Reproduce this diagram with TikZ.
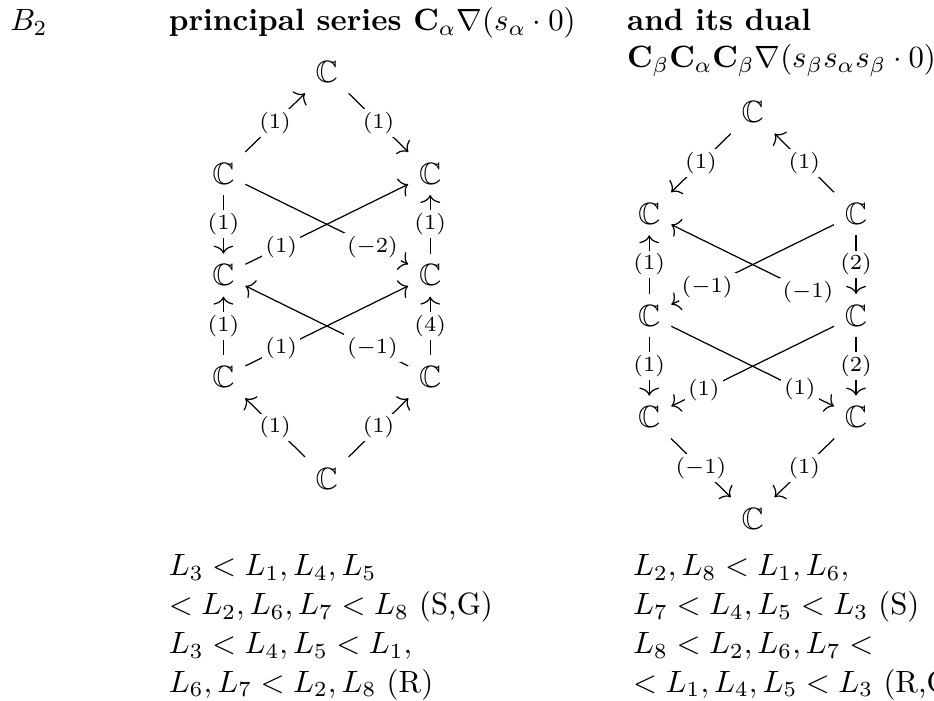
\documentclass[tikz,border=0pt]{standalone}
\usepackage{amsmath,amssymb}
\usepackage{tikz}
\usetikzlibrary{arrows.meta}

\begin{document}
\begin{tikzpicture}[
    map/.style={-{To[length=2.6pt, width=6.4pt]}},
    lbl/.style={fill=white, inner sep=1pt, font=\scriptsize},
    hd/.style={anchor=base west, inner sep=0pt, align=left},
    rel/.style={anchor=base west, inner sep=0pt, align=left,
                font=\fontsize{10pt}{12.6pt}\selectfont}]
  \def\dx{1.18}
  \def\dy{1.16}
  \useasboundingbox (0,0) rectangle (10.66,-8.0);

  % headings (base of a multi-line node = its last line)
  \node[hd] (type) at (0.11,-0.35) {$B_2$};
  \node[hd] (pttl) at (1.92,-0.35)
        {\textbf{principal series $\mathbf{C}_\alpha\nabla(s_\alpha\cdot 0)$}};
  \node[hd] (dttl) at (7.15,-0.77)
        {\textbf{and its dual}\\
         $\mathbf{C}_\beta\mathbf{C}_\alpha\mathbf{C}_\beta\nabla(s_\beta s_\alpha s_\beta\cdot 0)$};

  % principal series
  \begin{scope}[shift={(3.73,-0.82)}]
    \node (ptop) at (0,0) {$\mathbb{C}$};
    \node (pul) at (-\dx,-\dy) {$\mathbb{C}$};
    \node (pur) at (\dx,-\dy) {$\mathbb{C}$};
    \node (pml) at (-\dx,-2*\dy) {$\mathbb{C}$};
    \node (pmr) at (\dx,-2*\dy) {$\mathbb{C}$};
    \node (pll) at (-\dx,-3*\dy) {$\mathbb{C}$};
    \node (plr) at (\dx,-3*\dy) {$\mathbb{C}$};
    \node (pbot) at (0,-4*\dy) {$\mathbb{C}$};
  \end{scope}
  \foreach \a/\b/\l/\p in {pul/ptop/1/0.5, ptop/pur/1/0.5, pul/pml/1/0.5,
      pmr/pur/1/0.5, pml/pur/1/0.22, pul/pmr/-2/0.78, pll/pml/1/0.5,
      plr/pmr/4/0.5, pll/pmr/1/0.22, plr/pml/-1/0.22, pbot/pll/1/0.5,
      pbot/plr/1/0.5}{
    \draw[map] (\a) -- node[lbl, pos=\p] {$(\l)$} (\b);
  }

  % dual
  \begin{scope}[shift={(8.59,-1.28)}]
    \node (dtop) at (0,0) {$\mathbb{C}$};
    \node (dul) at (-\dx,-\dy) {$\mathbb{C}$};
    \node (dur) at (\dx,-\dy) {$\mathbb{C}$};
    \node (dml) at (-\dx,-2*\dy) {$\mathbb{C}$};
    \node (dmr) at (\dx,-2*\dy) {$\mathbb{C}$};
    \node (dll) at (-\dx,-3*\dy) {$\mathbb{C}$};
    \node (dlr) at (\dx,-3*\dy) {$\mathbb{C}$};
    \node (dbot) at (0,-4*\dy) {$\mathbb{C}$};
  \end{scope}
  \foreach \a/\b/\l/\p in {dtop/dul/1/0.5, dur/dtop/1/0.5, dml/dul/1/0.5,
      dur/dmr/2/0.5, dur/dml/-1/0.78, dmr/dul/-1/0.16, dml/dll/1/0.5,
      dmr/dlr/2/0.5, dmr/dll/1/0.8, dml/dlr/1/0.79, dll/dbot/-1/0.5,
      dlr/dbot/1/0.5}{
    \draw[map] (\a) -- node[lbl, pos=\p] {$(\l)$} (\b);
  }

  % orderings
  \node[rel] (prel) at (1.92,-7.90)
        {$L_3 < L_1, L_4, L_5$\\
         $< L_2, L_6, L_7 < L_8$ (S,G)\\
         $L_3 < L_4, L_5 < L_1,$\\
         $L_6, L_7 < L_2, L_8$ (R)};
  \node[rel] (drel) at (7.22,-7.90)
        {$L_2, L_8 < L_1, L_6,$\\
         $L_7 < L_4, L_5 < L_3$ (S)\\
         $L_8 < L_2, L_6, L_7 <$\\
         $< L_1, L_4, L_5 < L_3$ (R,G)};
\end{tikzpicture}
\end{document}
